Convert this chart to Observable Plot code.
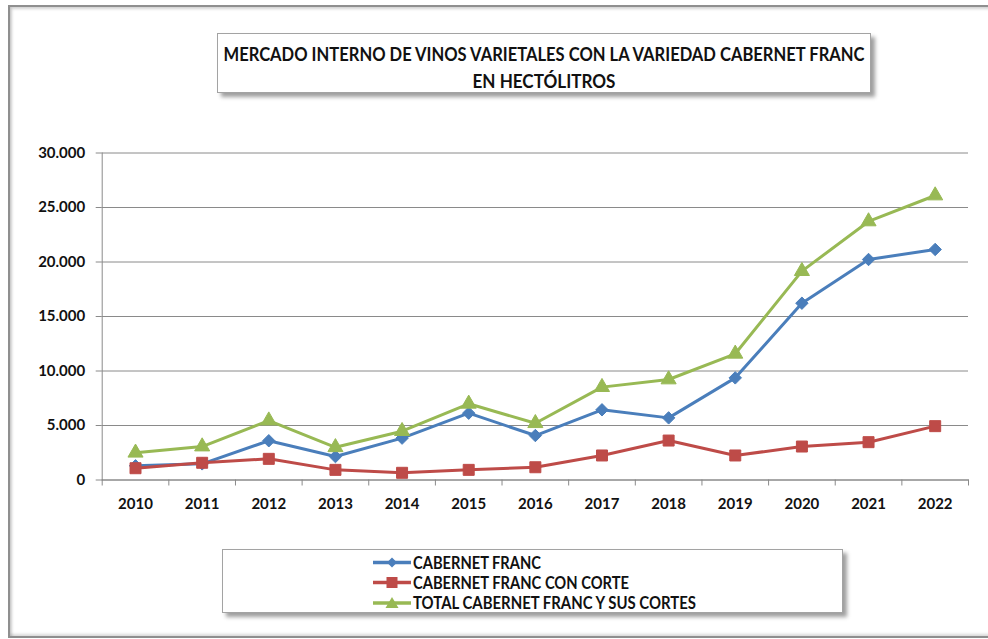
<!DOCTYPE html>
<html>
<head>
<meta charset="utf-8">
<script src="https://cdn.jsdelivr.net/npm/d3@7"></script>
<script src="https://cdn.jsdelivr.net/npm/@observablehq/plot@0.6"></script>
<style>
  html, body { margin: 0; padding: 0; background: #fff; }
  #wrap { position: relative; width: 988px; height: 639px; overflow: hidden; background: #fff; font-family: Lato, "Open Sans", sans-serif; }
  #frame { position: absolute; left: 8px; top: 5px; width: 1000px; height: 629px; border: 2px solid #8f8f8f; box-shadow: inset 2px 2px 3px rgba(0,0,0,0.18), inset 0 -2px 3px rgba(0,0,0,0.15); }
  .box { position: absolute; background: #fff; border: 1.5px solid #a3a3a3; box-shadow: 4px 4px 4px rgba(0,0,0,0.38); box-sizing: border-box; }
  #title { left: 217px; top: 33px; width: 654px; height: 60px; }
  #legend { left: 222px; top: 549px; width: 621px; height: 64px; }
  .box svg { position: absolute; left: 0; top: 0; overflow: visible; }
  #chart { position: absolute; left: 0; top: 130px; }
</style>
</head>
<body>
<div id="wrap">
  <div id="frame"></div>
  <div id="title" class="box"></div>
  <div id="chart"></div>
  <div id="legend" class="box"></div>
</div>
<script>
// ---- data ----
const years = [2010, 2011, 2012, 2013, 2014, 2015, 2016, 2017, 2018, 2019, 2020, 2021, 2022];
const cabernetFranc = [1300, 1480, 3600, 2150, 3840, 6130, 4080, 6440, 5700, 9370, 16220, 20230, 21150];
const cabernetFrancConCorte = [1080, 1580, 1940, 930, 660, 930, 1170, 2250, 3620, 2250, 3070, 3470, 4940];
const totalCabernetFranc = [2500, 3070, 5450, 3000, 4480, 6990, 5210, 8520, 9220, 11580, 19160, 23720, 26100];
const seriesNames = ["CABERNET FRANC", "CABERNET FRANC CON CORTE", "TOTAL CABERNET FRANC Y SUS CORTES"];
const yTicks = [0, 5000, 10000, 15000, 20000, 25000, 30000];
const titleLines = ["MERCADO INTERNO DE VINOS VARIETALES CON LA VARIEDAD CABERNET FRANC", "EN HECTÓLITROS"];

// ---- styles ----
const colors = ["#4A7EBB", "#BE4B48", "#98B954"];
const symbols = ["diamond2", "square", "triangle"];
const radii = [5.6, 6.2, 5.6];

const seriesValues = [cabernetFranc, cabernetFrancConCorte, totalCabernetFranc];
const series = seriesNames.map((name, k) => ({
  name, color: colors[k], symbol: symbols[k], r: radii[k],
  rows: years.map((year, i) => ({year, value: seriesValues[k][i]}))
}));

const boundaries = [...years.map(y => y - 0.5), years[years.length - 1] + 0.5];
const fmt = d => d === 0 ? "0" : d3.format(",")(d).replace(/,/g, ".");

const W = 988, H = 390;
const marks = [
  Plot.gridY(yTicks, {stroke: "#8a8a8a", strokeOpacity: 1, strokeWidth: 1}),
  Plot.frame({anchor: "left", stroke: "#8a8a8a", strokeWidth: 1}),
  Plot.frame({anchor: "bottom", stroke: "#8a8a8a", strokeWidth: 1}),
  Plot.axisY(yTicks, {label: null, tickSize: 6, tickPadding: 11, tickFormat: fmt, stroke: "#8a8a8a", fill: "#111", fontSize: 15, fontWeight: "bold"}),
  Plot.axisX(boundaries, {label: null, tickSize: 6, tickFormat: () => "", stroke: "#8a8a8a"}),
  Plot.axisX(years, {label: null, tickSize: 0, tickPadding: 18, tickFormat: d => String(d), fill: "#111", fontSize: 15, fontWeight: "bold"})
];
for (const s of series) {
  marks.push(Plot.line(s.rows, {x: "year", y: "value", stroke: s.color, strokeWidth: 3}));
  marks.push(Plot.dot(s.rows, {x: "year", y: "value", symbol: () => s.symbol, r: s.r, fill: s.color, stroke: s.color, strokeWidth: 1}));
}

const chart = Plot.plot({
  width: W, height: H,
  marginLeft: 101.7, marginRight: 20, marginTop: 22.5, marginBottom: 40.5,
  x: {type: "linear", domain: [boundaries[0], boundaries[boundaries.length - 1]], axis: null, label: null},
  y: {domain: [0, 30000], axis: null, label: null},
  symbol: {type: "identity"},
  style: {fontFamily: "Lato, 'Open Sans', sans-serif", fontWeight: "bold", fontSize: "15px", color: "#111", background: "transparent", overflow: "visible"},
  marks
});
document.getElementById("chart").appendChild(chart);

// ---- title ----
const ns = "http://www.w3.org/2000/svg";
function svgEl(tag, attrs) {
  const e = document.createElementNS(ns, tag);
  for (const k in attrs) e.setAttribute(k, attrs[k]);
  return e;
}
{
  const t = document.getElementById("title");
  const svg = svgEl("svg", {width: 654, height: 60});
  const widths = [641, 143];
  const ys = [20, 47];
  titleLines.forEach((line, i) => {
    const tx = svgEl("text", {x: 326, y: ys[i], "text-anchor": "middle", "dominant-baseline": "central",
      "font-family": "Lato, 'Open Sans', sans-serif", "font-weight": "bold", "font-size": 18, fill: "#111",
      textLength: widths[i], lengthAdjust: "spacingAndGlyphs"});
    tx.textContent = line;
    svg.appendChild(tx);
  });
  t.appendChild(svg);
}

// ---- legend ----
{
  const lg = document.getElementById("legend");
  const svg = svgEl("svg", {width: 621, height: 64});
  const widths = [128, 216, 283];
  const ys = [12.5, 32.5, 53];
  const x0 = 372 - 222, x1 = 410 - 222, xt = 412 - 222;
  series.forEach((s, i) => {
    svg.appendChild(svgEl("line", {x1: x0, x2: x1, y1: ys[i], y2: ys[i], stroke: s.color, "stroke-width": 3.5}));
    const cx = (x0 + x1) / 2, cy = ys[i];
    let m;
    if (s.symbol === "diamond2") m = svgEl("path", {d: `M${cx},${cy-5}L${cx+5},${cy}L${cx},${cy+5}L${cx-5},${cy}Z`, fill: s.color});
    else if (s.symbol === "square") m = svgEl("rect", {x: cx - 5.5, y: cy - 5.5, width: 11, height: 11, fill: s.color});
    else m = svgEl("path", {d: `M${cx},${cy-6}L${cx+6.5},${cy+5}L${cx-6.5},${cy+5}Z`, fill: s.color});
    svg.appendChild(m);
    const tx = svgEl("text", {x: xt, y: ys[i], "dominant-baseline": "central",
      "font-family": "Lato, 'Open Sans', sans-serif", "font-weight": "bold", "font-size": 16.5, fill: "#111",
      textLength: widths[i], lengthAdjust: "spacingAndGlyphs"});
    tx.textContent = s.name;
    svg.appendChild(tx);
  });
  lg.appendChild(svg);
}
</script>
</body>
</html>
